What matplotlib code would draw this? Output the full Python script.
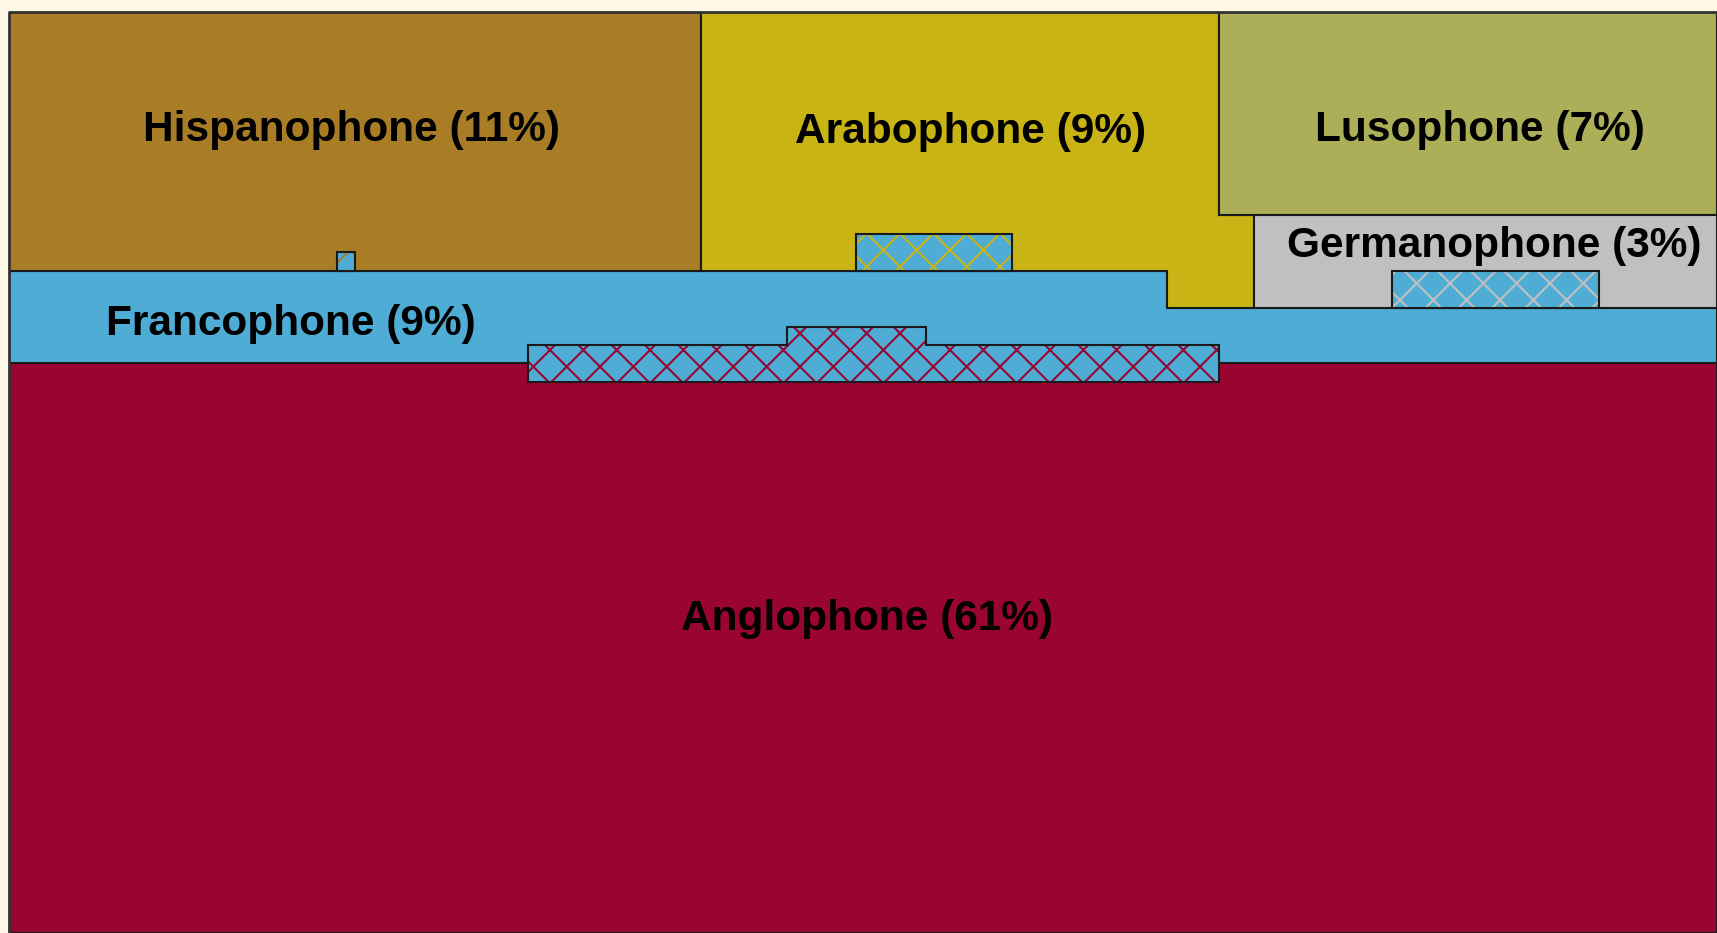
import matplotlib
matplotlib.use("Agg")
import matplotlib.pyplot as plt
from matplotlib.patches import Polygon

plt.rcParams['font.family'] = ['Liberation Sans', 'DejaVu Sans']
plt.rcParams['hatch.linewidth'] = 1.5

# ---- data ----
regions = ["Anglophone", "Francophone", "Hispanophone", "Arabophone", "Lusophone", "Germanophone"]
shares = [61, 9, 11, 9, 7, 3]
colors = ["#990431", "#4FADD5", "#A97D26", "#C9B416", "#ADAF58", "#C0C0C0"]

# region outlines (map units)
anglophone_poly = [(9, 363), (1717, 363), (1717, 933), (9, 933)]
francophone_poly = [(9, 271), (1167, 271), (1167, 308), (1717, 308), (1717, 363), (9, 363)]
hispanophone_poly = [(9, 12), (701, 12), (701, 271), (9, 271)]
arabophone_poly = [(701, 12), (1219, 12), (1219, 215), (1254, 215), (1254, 308),
                   (1167, 308), (1167, 271), (701, 271)]
lusophone_poly = [(1219, 12), (1717, 12), (1717, 215), (1219, 215)]
germanophone_poly = [(1254, 215), (1717, 215), (1717, 308), (1254, 308)]
polys = [anglophone_poly, francophone_poly, hispanophone_poly, arabophone_poly,
         lusophone_poly, germanophone_poly]

# bilingual overlap zones: (outline, partner region)
overlap_angl_fr = [(528, 382), (528, 345), (787, 345), (787, 327), (926, 327),
                   (926, 345), (1219, 345), (1219, 382)]
overlap_hisp_fr = [(337, 252), (355, 252), (355, 271), (337, 271)]
overlap_arab_fr = [(856, 234), (1012, 234), (1012, 271), (856, 271)]
overlap_germ_fr = [(1392, 271), (1599, 271), (1599, 308), (1392, 308)]
overlaps = [(overlap_angl_fr, "Anglophone"), (overlap_hisp_fr, "Hispanophone"),
            (overlap_arab_fr, "Arabophone"), (overlap_germ_fr, "Germanophone")]

label_pos = {"Anglophone": (867, 619), "Francophone": (291, 324), "Hispanophone": (351, 130),
             "Arabophone": (971, 132), "Lusophone": (1480, 130), "Germanophone": (1494, 246)}

# ---- figure ----
fig = plt.figure(figsize=(17.17, 9.33), dpi=100, facecolor="#FFF8E7")
ax = fig.add_axes([9 / 1717, 0, 1708 / 1717, 921 / 933])
ax.set_xlim(9, 1717)
ax.set_ylim(933, 12)
ax.set_axis_off()

cmap = dict(zip(regions, colors))
for name, poly in zip(regions, polys):
    ax.add_patch(Polygon(poly, closed=True, facecolor=cmap[name], edgecolor="#1a1a1a",
                         linewidth=1.5, zorder=1))

for poly, partner in overlaps:
    ax.add_patch(Polygon(poly, closed=True, facecolor=cmap["Francophone"],
                         edgecolor=cmap[partner], hatch="x", linewidth=0, zorder=2))
    ax.add_patch(Polygon(poly, closed=True, fill=False, edgecolor="#1a1a1a",
                         linewidth=1.5, zorder=3))

for name, share in zip(regions, shares):
    x, y = label_pos[name]
    ax.text(x, y, f"{name} ({share}%)", ha="center", va="center", fontsize=30.5,
            fontweight="bold", color="black", zorder=4)

# frame lines on left and top
ax.plot([9, 9, 1717], [933, 12, 12], color="#333333", linewidth=2, zorder=5, clip_on=False)

fig.savefig("out.png", dpi=100, facecolor=fig.get_facecolor())
